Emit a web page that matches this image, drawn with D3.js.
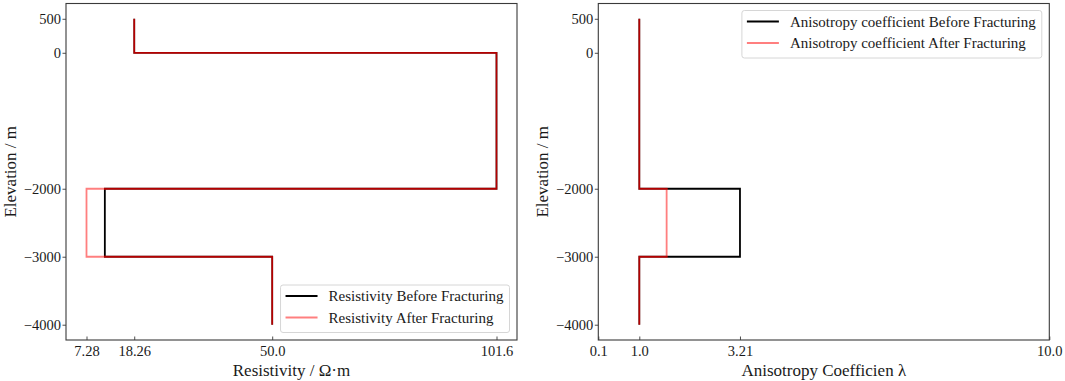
<!DOCTYPE html>
<html>
<head>
<meta charset="utf-8">
<script src="https://cdn.jsdelivr.net/npm/d3@7"></script>
<style>
  html, body { margin: 0; padding: 0; background: #fff; }
  svg { display: block; font-family: "Liberation Serif", "Times New Roman", serif; }
  svg text { font-family: "Liberation Serif", "Times New Roman", serif; }
</style>
</head>
<body>
<svg id="chart" width="1065" height="381"></svg>
<script>
// ---- Data ----
const layerTops    = [500, 0, -2000, -3000];
const layerBottoms = [0, -2000, -3000, -4000];
const resistivityBefore = [18.26, 101.6, 11.5, 50.0];
const resistivityAfter  = [18.26, 101.6, 7.28, 50.0];
const anisotropyBefore  = [1.0, 1.0, 3.21, 1.0];
const anisotropyAfter   = [1.0, 1.0, 1.6, 1.0];
const elevationTicks = [500, 0, -2000, -3000, -4000];
const resistivityTicks = [7.28, 18.26, 50.0, 101.6];
const resistivityTickLabels = ["7.28", "18.26", "50.0", "101.6"];
const anisotropyTicks = [0.1, 1.0, 3.21, 10.0];
const anisotropyTickLabels = ["0.1", "1.0", "3.21", "10.0"];
const resistivityLegend = ["Resistivity Before Fracturing", "Resistivity After Fracturing"];
const anisotropyLegend = ["Anisotropy coefficient Before Fracturing", "Anisotropy coefficient After Fracturing"];

// ---- Styles ----
const BEFORE_COLOR = "#000000";
const AFTER_COLOR = "#ff0000";
const AFTER_OPACITY = 0.5;
const OVERLAP_COLOR = "#b40000";
const LINE_W = 1.8;
const SPINE = "#3a3a3a";
const FONT = "Liberation Serif";

const svg = d3.select("#chart");

function pad(lo, hi) { const m = (hi - lo) * 0.05; return [lo - m, hi + m]; }

function panel(opts) {
  const { left, right, top, bottom } = opts;
  const x = d3.scaleLinear().domain(opts.xDomain).range([left, right]);
  const y = d3.scaleLinear().domain(pad(d3.min(layerBottoms), d3.max(layerTops))).range([bottom, top]);
  const g = svg.append("g");

  // step lines
  const stepPoints = vals => {
    const pts = [];
    vals.forEach((v, i) => { pts.push([v, layerTops[i]]); pts.push([v, layerBottoms[i]]); });
    return pts;
  };
  const line = d3.line().x(d => x(d[0])).y(d => y(d[1]));
  const lines = g.append("g").style("isolation", "isolate");
  lines.append("rect").attr("x", left).attr("y", top).attr("width", right - left).attr("height", bottom - top)
    .attr("fill", "#ffffff");
  lines.append("path").attr("d", line(stepPoints(opts.before)))
    .attr("fill", "none").attr("stroke", BEFORE_COLOR).attr("stroke-width", LINE_W);
  lines.append("path").attr("d", line(stepPoints(opts.after)))
    .attr("fill", "none").attr("stroke", AFTER_COLOR).attr("stroke-opacity", AFTER_OPACITY).attr("stroke-width", LINE_W);
  // where both curves coincide, the translucent red over black reads as a deeper red
  lines.append("path").attr("d", line(stepPoints(opts.after)))
    .attr("fill", "none").attr("stroke", OVERLAP_COLOR).attr("stroke-width", LINE_W)
    .style("mix-blend-mode", "lighten");

  // axes
  const xAxis = d3.axisBottom(x).tickValues(opts.xTicks)
    .tickFormat((d, i) => opts.xTickLabels[i]).tickSizeInner(-3.5).tickSizeOuter(0).tickPadding(6);
  const gx = g.append("g").attr("transform", `translate(0,${bottom})`).call(xAxis);
  const yAxis = d3.axisLeft(y).tickValues(elevationTicks)
    .tickFormat(d => d < 0 ? "\u2212" + Math.abs(d) : String(d)).tickSize(3.5).tickPadding(1.5);
  const gy = g.append("g").attr("transform", `translate(${left},0)`).call(yAxis);
  [gx, gy].forEach(a => {
    a.attr("font-family", FONT).attr("font-size", 14.5);
    a.select(".domain").remove();
    a.selectAll(".tick line").attr("stroke", SPINE).attr("stroke-width", 0.9);
    a.selectAll(".tick text").attr("fill", "#1a1a1a").attr("font-family", FONT).attr("font-size", 14.5);
  });

  // frame
  g.append("rect").attr("x", left).attr("y", top).attr("width", right - left).attr("height", bottom - top)
    .attr("fill", "none").attr("stroke", SPINE).attr("stroke-width", 1.1);

  // labels
  g.append("text").attr("x", (left + right) / 2).attr("y", 376).attr("text-anchor", "middle")
    .attr("font-family", FONT).attr("font-size", 17).attr("fill", "#1a1a1a").text(opts.xLabel);
  g.append("text").attr("transform", `translate(${left - 50},${(top + bottom) / 2}) rotate(-90)`)
    .attr("text-anchor", "middle").attr("font-family", FONT).attr("font-size", 17).attr("fill", "#1a1a1a").text("Elevation / m");

  // legend
  const lg = g.append("g");
  const texts = opts.legend.map((t, i) => lg.append("text").attr("dy", "0.35em")
    .attr("font-family", FONT).attr("font-size", 15).attr("fill", "#1a1a1a").text(t));
  const tw = d3.max(texts, t => t.node().getComputedTextLength());
  const boxW = 48 + tw + 6, boxH = 47.5;
  const bx = right - 7.5 - boxW;
  const by = opts.legendPos === "top" ? top + 7 : bottom - 7.5 - boxH;
  lg.insert("rect", ":first-child").attr("x", bx).attr("y", by).attr("width", boxW).attr("height", boxH)
    .attr("rx", 2.5).attr("fill", "#fff").attr("fill-opacity", 0.85).attr("stroke", "#d6d6d6").attr("stroke-width", 1);
  texts.forEach((t, i) => t.attr("x", bx + 48).attr("y", by + 11 + i * 21.5));
  [[BEFORE_COLOR, 1], [AFTER_COLOR, AFTER_OPACITY]].forEach(([c, o], i) => {
    lg.append("line").attr("x1", bx + 5).attr("x2", bx + 37)
      .attr("y1", by + 11 + i * 21.5).attr("y2", by + 11 + i * 21.5)
      .attr("stroke", c).attr("stroke-opacity", o).attr("stroke-width", LINE_W);
  });
}

panel({
  left: 66, right: 517, top: 3.5, bottom: 340,
  xDomain: pad(d3.min(resistivityAfter), d3.max(resistivityBefore)),
  before: resistivityBefore, after: resistivityAfter,
  xTicks: resistivityTicks, xTickLabels: resistivityTickLabels,
  xLabel: "Resistivity / \u03A9\u00B7m", legend: resistivityLegend, legendPos: "bottom"
});
panel({
  left: 598.3, right: 1049.3, top: 3.5, bottom: 340,
  xDomain: [0.1, 10.0],
  before: anisotropyBefore, after: anisotropyAfter,
  xTicks: anisotropyTicks, xTickLabels: anisotropyTickLabels,
  xLabel: "Anisotropy Coefficien \u03BB", legend: anisotropyLegend, legendPos: "top"
});
</script>
</body>
</html>
